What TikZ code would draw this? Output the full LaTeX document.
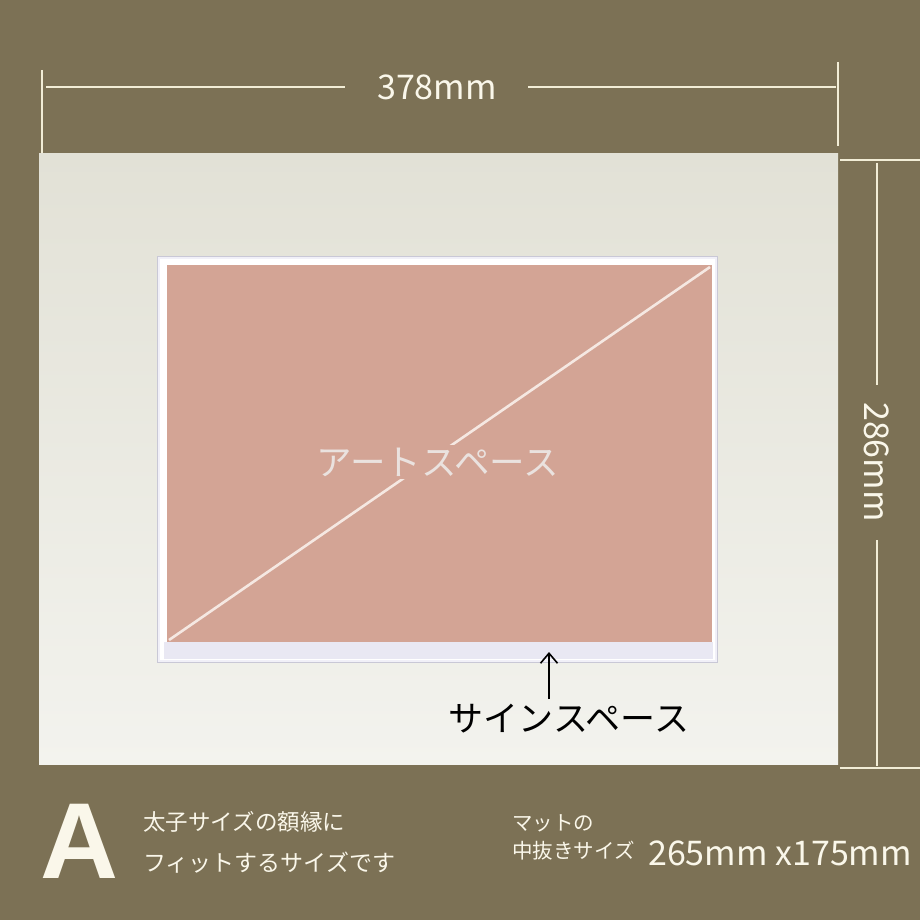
\documentclass[tikz,border=0pt]{standalone}
\usepackage{fontspec}
\setmainfont{Noto Sans CJK JP}
\newfontfamily\boldA{Liberation Sans}
\usetikzlibrary{arrows.meta}
\definecolor{bgc}{HTML}{7C7155}
\definecolor{matTop}{HTML}{E2E1D6}
\definecolor{matBot}{HTML}{F3F3EE}
\definecolor{dimc}{HTML}{F2EDD6}
\definecolor{bevel}{HTML}{F1F0F8}
\definecolor{bevelEdge}{HTML}{C9C8D6}
\definecolor{signc}{HTML}{E9E8F3}
\definecolor{artc}{HTML}{D3A495}
\definecolor{diagc}{HTML}{F5E8E2}
\definecolor{arttext}{HTML}{EAE2DF}
\definecolor{lbl}{HTML}{FAF7EA}
\begin{document}
\begin{tikzpicture}[x=1pt,y=-1pt,
  dimline/.style={draw=dimc,line width=2pt},
  dimlabel/.style={text=lbl,font=\fontsize{34}{40}\selectfont,inner ysep=0pt},
  note/.style={text=lbl,anchor=base west,inner sep=0pt},
]
\useasboundingbox (0,0) rectangle (920,920);
\fill[bgc] (0,0) rectangle (920,920);
% mat
\shade[top color=matTop,bottom color=matBot] (39,154) rectangle (838,764);
% window bevel
\fill[bevel,draw=bevelEdge,line width=0.8pt] (157.5,256.5) rectangle (717.5,662.5);
\fill[white] (160,259) rectangle (715,660);
\fill[signc] (164,642) rectangle (713,659);
\fill[artc] (167,265) rectangle (712,642);
% diagonal
\coordinate (dA) at (169,640);
\coordinate (dB) at (710,267);
\draw[diagc,line width=2.6pt] (dA) -- (dB);
\node[fill=artc,inner xsep=2pt,inner ysep=3pt,text=arttext,font=\fontsize{35.5}{40}\selectfont] (art) at (438,462) {アートスペース};
% sign space
\node[font=\fontsize{35}{40}\selectfont,text=black,inner sep=0pt] (sign) at (569,719) {サインスペース};
\coordinate (tip) at (549,652);
\coordinate (tail) at (549,699);
\draw[line width=1.6pt,-{Straight Barb[length=10pt,width=17pt]}] (tail) -- (tip);
% top dimension
\coordinate (tl1) at (42,70);
\coordinate (tl2) at (42,153);
\coordinate (tr1) at (838,62);
\coordinate (tr2) at (838,146);
\coordinate (hl) at (46,87);
\coordinate (hr) at (836,87);
\draw[dimline] (tl1) -- (tl2);
\draw[dimline] (tr1) -- (tr2);
\node[dimlabel,inner xsep=0pt] (w) at (437,87) {378mm};
\coordinate (wl) at (345,87);
\coordinate (wr) at (528,87);
\draw[dimline] (hl) -- (wl);
\draw[dimline] (wr) -- (hr);
% right dimension
\coordinate (rt1) at (840,160);
\coordinate (rt2) at (920,160);
\coordinate (rb1) at (840,768);
\coordinate (rb2) at (920,768);
\draw[dimline] (rt1) -- (rt2);
\draw[dimline] (rb1) -- (rb2);
\node[dimlabel,rotate=-90] (h) at (877,462) {286mm};
\coordinate (vt) at (877,163);
\coordinate (vb) at (877,766);
\coordinate (ht) at (877,385);
\coordinate (hb) at (877,540);
\draw[dimline] (vt) -- (ht);
\draw[dimline] (hb) -- (vb);
% bottom notes
\node[note,font=\boldA\bfseries\fontsize{108}{110}\selectfont] (A) at (40,878) {A};
\node[note,font=\fontsize{22.5}{26}\selectfont] (n1) at (143,830) {太子サイズの額縁に};
\node[note,font=\fontsize{23}{26}\selectfont] (n2) at (143,871) {フィットするサイズです};
\node[note,font=\fontsize{20.5}{24}\selectfont] (m1) at (512,830) {マットの};
\node[note,font=\fontsize{20.5}{24}\selectfont] (m2) at (512,858) {中抜きサイズ};
\node[note,font=\fontsize{34}{40}\selectfont] (m3) at (648,865) {265mm x175mm};
\end{tikzpicture}
\end{document}
